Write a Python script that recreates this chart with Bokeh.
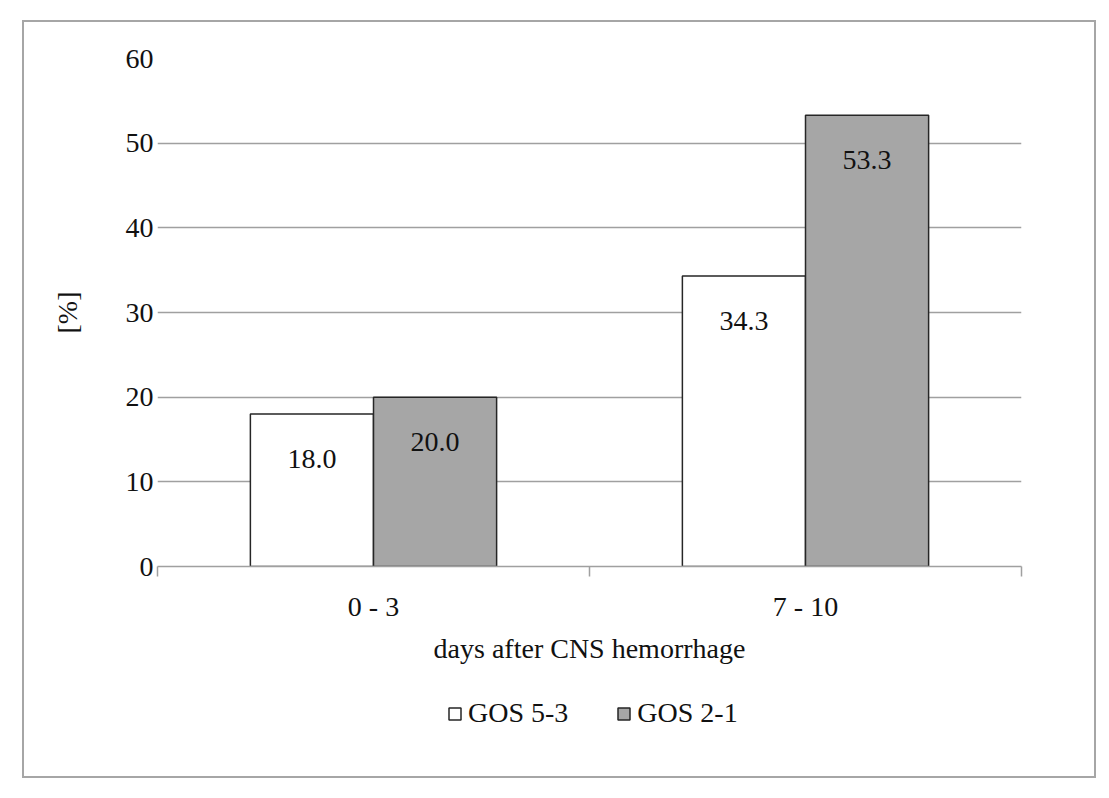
from bokeh.plotting import figure
from bokeh.layouts import column
from bokeh.models import Range1d, FixedTicker, Legend, LegendItem, ColumnDataSource
from bokeh.embed import file_html
from bokeh.resources import INLINE
from bokeh.core.properties import value
from bokeh.transform import dodge

categories = ["0 - 3", "7 - 10"]
series_names = ["GOS 5-3", "GOS 2-1"]
gos_5_3 = [18.0, 34.3]
gos_2_1 = [20.0, 53.3]
y_ticks = [0, 10, 20, 30, 40, 50, 60]

FONT = "Liberation Serif"
FS = "28px"
BAR_W = 0.285
WHITE_FILL = "white"
GRAY_FILL = "#a6a6a6"
EDGE = "#262626"

centers = [i + 0.5 for i in range(len(categories))]
bounds = list(range(len(categories) + 1))
src = ColumnDataSource(dict(
    x=centers, a=gos_5_3, b=gos_2_1,
    la=[f"{v:.1f}" for v in gos_5_3], lb=[f"{v:.1f}" for v in gos_2_1],
))

p = figure(width=1074, height=668,
           x_range=Range1d(0, len(categories)), y_range=Range1d(0, 60),
           output_backend="svg", toolbar_location=None,
           min_border_left=135, min_border_right=75, min_border_top=38, min_border_bottom=122)
p.outline_line_color = None
p.background_fill_color = "white"
p.border_fill_alpha = 0

p.vbar(x=dodge('x', -BAR_W / 2, range=p.x_range), top='a', width=BAR_W, source=src,
       fill_color=WHITE_FILL, line_color=EDGE, line_width=1.5)
p.vbar(x=dodge('x', BAR_W / 2, range=p.x_range), top='b', width=BAR_W, source=src,
       fill_color=GRAY_FILL, line_color=EDGE, line_width=1.5)

for col, lab, off in (("a", "la", -BAR_W / 2), ("b", "lb", BAR_W / 2)):
    p.text(x=dodge('x', off, range=p.x_range), y=col, text=lab, source=src,
           text_align="center", text_baseline="middle", y_offset=45,
           text_font=value(FONT), text_font_size=FS, text_color="#111111")

# x axis
p.xaxis.ticker = FixedTicker(ticks=centers, minor_ticks=bounds)
p.xaxis.major_label_overrides = {c: lab for c, lab in zip(centers, categories)}
p.xaxis.major_tick_line_color = None
p.xaxis.major_tick_out = 10
p.xaxis.major_tick_in = 0
p.xaxis.minor_tick_line_color = "#a0a0a0"
p.xaxis.minor_tick_line_width = 1.5
p.xaxis.minor_tick_out = 10
p.xaxis.minor_tick_in = 0
p.xaxis.axis_line_color = "#a0a0a0"
p.xaxis.axis_line_width = 1.5
p.xaxis.major_label_standoff = 14
p.xaxis.major_label_text_font = FONT
p.xaxis.major_label_text_font_size = FS
p.xaxis.major_label_text_color = "#111111"
p.xaxis.axis_label = "days after CNS hemorrhage"
p.xaxis.axis_label_text_font = FONT
p.xaxis.axis_label_text_font_size = FS
p.xaxis.axis_label_text_font_style = "normal"
p.xaxis.axis_label_text_color = "#111111"
p.xaxis.axis_label_standoff = 8

# y axis
p.yaxis.ticker = FixedTicker(ticks=y_ticks)
p.yaxis.axis_line_color = None
p.yaxis.major_tick_line_color = None
p.yaxis.minor_tick_line_color = None
p.yaxis.major_tick_out = 0
p.yaxis.major_label_standoff = 4
p.yaxis.major_label_text_font = FONT
p.yaxis.major_label_text_font_size = FS
p.yaxis.major_label_text_color = "#111111"
p.yaxis.axis_label = "[%]"
p.yaxis.axis_label_text_font = FONT
p.yaxis.axis_label_text_font_size = FS
p.yaxis.axis_label_text_font_style = "normal"
p.yaxis.axis_label_text_color = "#111111"
p.yaxis.axis_label_standoff = 40

p.xgrid.grid_line_color = None
p.ygrid.ticker = FixedTicker(ticks=y_ticks)
p.ygrid.grid_line_color = "#a0a0a0"
p.ygrid.grid_line_width = 1.5

# legend strip (separate small figure below the chart)
lp = figure(width=1074, height=90, x_range=Range1d(0, 1), y_range=Range1d(0, 1),
            output_backend="svg", toolbar_location=None,
            x_axis_type=None, y_axis_type=None,
            min_border_left=0, min_border_right=0, min_border_top=0, min_border_bottom=0)
lp.outline_line_color = None
lp.background_fill_alpha = 0
lp.border_fill_alpha = 0
lp.xgrid.visible = False
lp.ygrid.visible = False
k1 = lp.vbar(x='x', top='a', width=BAR_W, source=src,
             fill_color=WHITE_FILL, line_color=EDGE, line_width=1.5, visible=False)
k2 = lp.vbar(x='x', top='b', width=BAR_W, source=src,
             fill_color=GRAY_FILL, line_color=EDGE, line_width=1.5, visible=False)
legend = Legend(items=[LegendItem(label=series_names[0], renderers=[k1]),
                       LegendItem(label=series_names[1], renderers=[k2])],
                orientation="horizontal", location=(290, 49),
                glyph_width=15, glyph_height=15, label_standoff=6, spacing=48,
                border_line_color=None, background_fill_alpha=0,
                inactive_fill_alpha=0,
                label_text_font=FONT, label_text_font_size=FS, label_text_color="#111111",
                padding=0, margin=0)
lp.add_layout(legend, "center")

layout = column(p, lp, spacing=0)
layout.margin = (20, 0, 0, 22)
layout.styles = {"box-shadow": "inset 0 0 0 2px #a6a6a6", "background-color": "white"}

open("out.html", "w").write(file_html(layout, INLINE))
